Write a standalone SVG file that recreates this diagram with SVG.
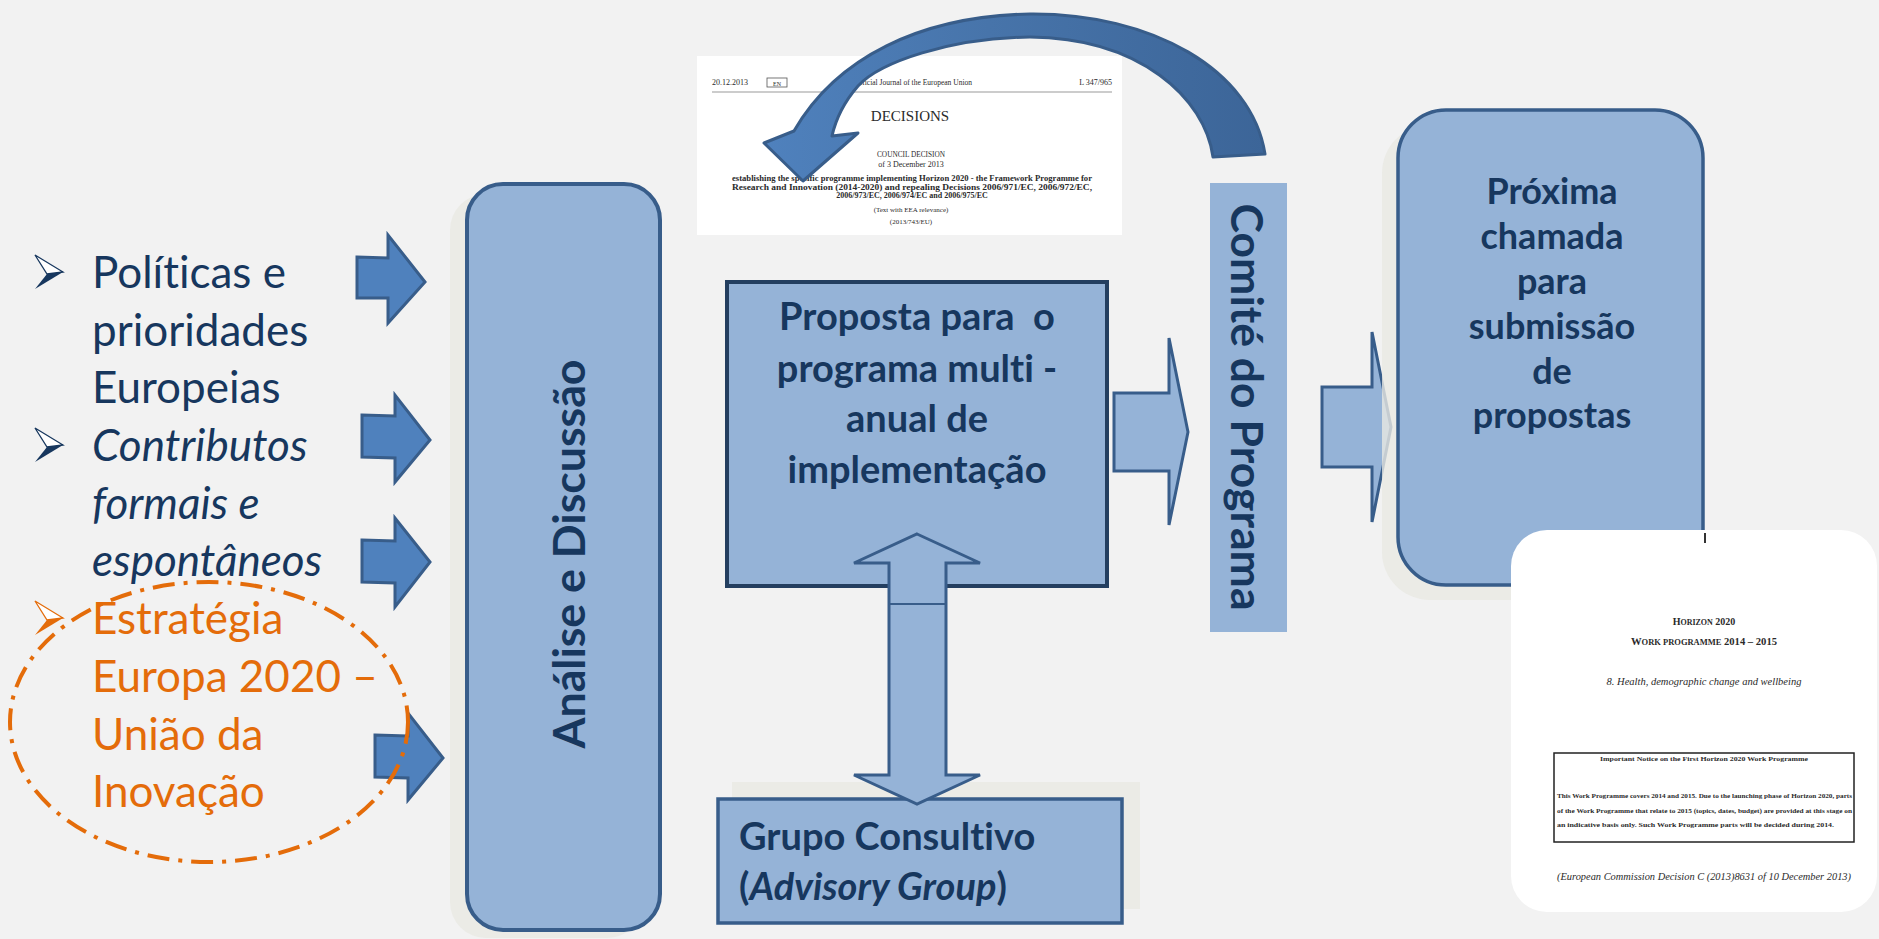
<svg xmlns="http://www.w3.org/2000/svg" width="1879" height="939" viewBox="0 0 1879 939">
<defs>
<style>
text{font-variant-ligatures:none}
.box{fill:#95b3d7;stroke:#385d8a;stroke-width:4}
.shadow{fill:#e8e8e2;opacity:.8}
.blk{fill:#4f81bd;stroke:#385d8a;stroke-width:3}
.lt{fill:#95b3d7;stroke:#385d8a;stroke-width:3}
.list{font-family:Lato,'Open Sans','Liberation Sans',sans-serif;font-size:44px}
.navy{fill:#17375e}
.orange{fill:#e46c0a}
.bold{font-family:Lato,'Open Sans','Liberation Sans',sans-serif;font-weight:700;fill:#17375e}
.doc{font-family:'Liberation Serif','DejaVu Serif',serif;fill:#2a2a2a}
</style>
<linearGradient id="cg" x1="0" y1="0" x2="1" y2="0">
<stop offset="0" stop-color="#4f81bd"/>
<stop offset="0.45" stop-color="#4774aa"/>
<stop offset="1" stop-color="#3c6598"/>
</linearGradient>
<g id="bul"><polygon points="0,-17 28,0 12,2" fill="#ffffff" stroke="currentColor" stroke-width="1.3"/><polygon points="12,2 28,0 0,17" fill="currentColor"/></g>
</defs>
<rect x="0" y="0" width="1879" height="939" fill="#f2f2f2"/>

<g id="doc-council-decision">
<rect x="697" y="56" width="425" height="179" fill="#ffffff"/>
<g class="doc">
<text x="712" y="85" font-size="8">20.12.2013</text>
<rect x="767" y="78" width="20" height="9" fill="none" stroke="#555" stroke-width="0.8"/>
<text x="777" y="85.5" font-size="6" text-anchor="middle">EN</text>
<text x="972" y="85" font-size="7.5" text-anchor="end">Official Journal of the European Union</text>
<text x="1112" y="85" font-size="8" text-anchor="end">L 347/965</text>
<line x1="712" y1="92" x2="1112" y2="92" stroke="#999" stroke-width="1"/>
<text x="910" y="121" font-size="15" text-anchor="middle">DECISIONS</text>
<text x="911" y="157" font-size="8" text-anchor="middle" textLength="68" lengthAdjust="spacingAndGlyphs">COUNCIL DECISION</text>
<text x="911" y="167" font-size="8" text-anchor="middle">of 3 December 2013</text>
<text x="912" y="181" font-size="8" text-anchor="middle" textLength="360" lengthAdjust="spacingAndGlyphs" font-weight="700">establishing the specific programme implementing Horizon 2020 - the Framework Programme for</text>
<text x="912" y="189.5" font-size="8" text-anchor="middle" textLength="360" lengthAdjust="spacingAndGlyphs" font-weight="700">Research and Innovation (2014-2020) and repealing Decisions 2006/971/EC, 2006/972/EC,</text>
<text x="912" y="198" font-size="8" text-anchor="middle" font-weight="700">2006/973/EC, 2006/974/EC and 2006/975/EC</text>
<text x="911" y="212" font-size="7" text-anchor="middle">(Text with EEA relevance)</text>
<text x="911" y="224" font-size="7" text-anchor="middle">(2013/743/EU)</text>
</g>
</g>

<g id="node-analise">
<rect class="shadow" x="450" y="194" width="193" height="744" rx="36"/>
<rect class="box" x="467" y="184" width="193" height="746" rx="36"/>
<text class="bold" font-size="44" transform="translate(585,554) rotate(-90)" text-anchor="middle" textLength="389" lengthAdjust="spacingAndGlyphs">Análise e Discussão</text>
</g>

<g id="node-proposta">
<rect x="727" y="282" width="380" height="304" fill="#95b3d7" stroke="#243f60" stroke-width="4"/>
<g class="bold" font-size="38" text-anchor="middle">
<text x="917" y="330" style="white-space:pre">Proposta para  o</text>
<text x="917" y="382">programa multi -</text>
<text x="917" y="432">anual de</text>
<text x="917" y="483">implementação</text>
</g>
</g>

<g id="node-comite">
<rect x="1210" y="183" width="77" height="449" fill="#95b3d7"/>
<text class="bold" font-size="44" transform="translate(1231,407) rotate(90)" text-anchor="middle" textLength="407" lengthAdjust="spacingAndGlyphs">Comité do Programa</text>
</g>

<g id="node-grupo">
<rect class="shadow" x="732" y="782" width="408" height="127"/>
<rect x="718" y="799" width="404" height="124" fill="#95b3d7" stroke="#385d8a" stroke-width="3.5"/>
<text class="bold" x="739" y="850" font-size="38">Grupo Consultivo</text>
<text class="bold" x="739" y="900" font-size="38">(<tspan font-style="italic">Advisory Group</tspan>)</text>
</g>

<g id="connectors">
<polygon class="blk" points="357,257 388,258 388,235 425,282 388,323 388,298 357,298"/>
<polygon class="blk" points="362,415 395,416 395,395 430,440 395,482 395,458 362,457"/>
<polygon class="blk" points="362,540 395,541 395,518 430,562 395,607 395,583 362,582"/>
<polygon class="blk" points="375,735 408,736 408,713 443,758 408,800 408,778 375,777"/>
<path d="M 794,131 C 836,58 920,16 1030,14 C 1152,13 1252,70 1265,154 L 1213,157 C 1205,98 1140,38 1030,37 C 950,38 880,62 858,86 C 845,101 836,118 832,136 L 858,133 L 803,181 L 764,143 Z" fill="url(#cg)" stroke="#385d8a" stroke-width="3" stroke-linejoin="round"/>
<polygon class="lt" points="917,534 980,563 946,563 946,775 980,775 917,804 854,775 889,775 889,563 854,563"/>
<line x1="889" y1="604" x2="946" y2="604" stroke="#385d8a" stroke-width="2"/>
<polygon class="lt" points="1114,393 1169,393 1169,338 1188,432 1169,525 1169,471 1114,471"/>
<polygon class="lt" points="1322,387 1372,387 1372,332 1391,427 1372,522 1372,467 1322,467"/>
</g>

<g id="node-list">
<use href="#bul" x="35" y="272" color="#17375e"/>
<use href="#bul" x="35" y="445" color="#17375e"/>
<use href="#bul" x="35" y="618" color="#e46c0a"/>
<g class="list navy">
<text x="92" y="288">Políticas e</text>
<text x="92" y="346">prioridades</text>
<text x="92" y="403">Europeias</text>
<text x="92" y="461" font-style="italic">Contributos</text>
<text x="92" y="519" font-style="italic">formais e</text>
<text x="92" y="576" font-style="italic">espontâneos</text>
</g>
<g class="list orange">
<text x="92" y="634">Estratégia</text>
<text x="92" y="692">Europa 2020 –</text>
<text x="92" y="750">União da</text>
<text x="92" y="807">Inovação</text>
</g>
<ellipse cx="209" cy="722" rx="199" ry="140" fill="none" stroke="#e46c0a" stroke-width="4" stroke-dasharray="22 9 4 9"/>
</g>

<g id="node-proxima">
<rect class="shadow" x="1382" y="125" width="305" height="475" rx="48"/>
<rect x="1398" y="110" width="305" height="475" rx="48" fill="#95b3d7" stroke="#385d8a" stroke-width="3.5"/>
<g class="bold" font-size="36" text-anchor="middle">
<text x="1552" y="204">Próxima</text>
<text x="1552" y="249">chamada</text>
<text x="1552" y="294">para</text>
<text x="1552" y="339">submissão</text>
<text x="1552" y="384">de</text>
<text x="1552" y="428">propostas</text>
</g>
</g>

<g id="doc-work-programme">
<rect x="1511" y="530" width="366" height="382" rx="36" fill="#ffffff"/>
<line x1="1705" y1="533" x2="1705" y2="543" stroke="#333" stroke-width="2"/>
<g class="doc" text-anchor="middle" font-weight="700">
<text x="1704" y="625" font-size="10">H<tspan font-size="8">ORIZON</tspan> 2020</text>
<text x="1704" y="645" font-size="10" textLength="146" lengthAdjust="spacingAndGlyphs">W<tspan font-size="8">ORK PROGRAMME</tspan> 2014 – 2015</text>
</g>
<text class="doc" x="1704" y="685" font-size="10" font-style="italic" text-anchor="middle" textLength="195" lengthAdjust="spacingAndGlyphs" fill="#444">8. Health, demographic change and wellbeing</text>
<rect x="1554" y="753" width="300" height="89" fill="none" stroke="#222" stroke-width="1.5"/>
<g class="doc" font-size="7" font-weight="700">
<text x="1704" y="761" text-anchor="middle" textLength="208" lengthAdjust="spacingAndGlyphs">Important Notice on the First Horizon 2020 Work Programme</text>
<text x="1557" y="798" textLength="295" lengthAdjust="spacingAndGlyphs">This Work Programme covers 2014 and 2015. Due to the launching phase of Horizon 2020, parts</text>
<text x="1557" y="813" textLength="295" lengthAdjust="spacingAndGlyphs">of the Work Programme that relate to 2015 (topics, dates, budget) are provided at this stage on</text>
<text x="1557" y="827" textLength="277" lengthAdjust="spacingAndGlyphs">an indicative basis only. Such Work Programme parts will be decided during 2014.</text>
</g>
<text class="doc" x="1704" y="880" font-size="10" font-style="italic" text-anchor="middle" textLength="294" lengthAdjust="spacingAndGlyphs" fill="#444">(European Commission Decision C (2013)8631 of 10 December 2013)</text>
</g>
</svg>
